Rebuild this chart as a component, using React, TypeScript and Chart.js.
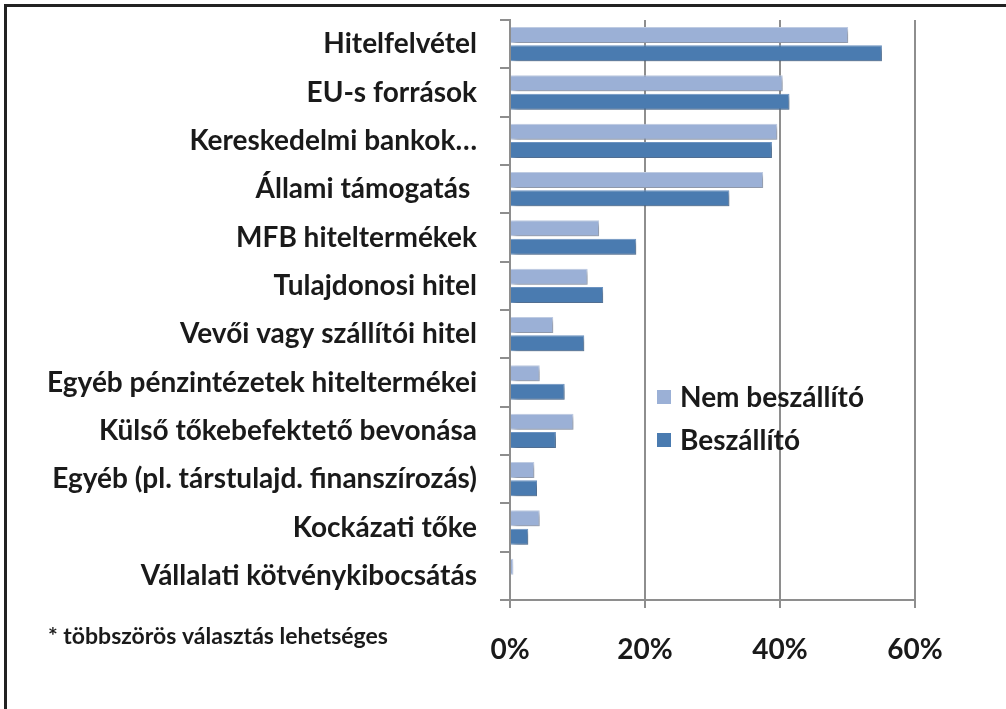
import React, { useEffect, useRef } from "react";
import { Chart, registerables } from "chart.js";
Chart.register(...registerables);

const categories = [
  "Hitelfelvétel",
  "EU-s források",
  "Kereskedelmi bankok…",
  "Állami támogatás ",
  "MFB hiteltermékek",
  "Tulajdonosi hitel",
  "Vevői vagy szállítói hitel",
  "Egyéb pénzintézetek hiteltermékei",
  "Külső tőkebefektető bevonása",
  "Egyéb (pl. társtulajd. finanszírozás)",
  "Kockázati tőke",
  "Vállalati kötvénykibocsátás",
];
const nemBeszallito = [50.1, 40.4, 39.6, 37.5, 13.2, 11.5, 6.4, 4.4, 9.4, 3.6, 4.4, 0.5];
const beszallito = [55.1, 41.4, 38.8, 32.5, 18.7, 13.8, 11.0, 8.1, 6.8, 4.0, 2.7, 0];
const seriesNames = ["Nem beszállító", "Beszállító"];
const xMin = 0;
const xMax = 60;
const xStep = 20;
const footnote = "* többszörös választás lehetséges";

const FONT = "Lato, 'Noto Sans', sans-serif";
const TEXT = "#1a1a1a";
const GRID = "#8e8e8e";
const LIGHT = "#9bb0d6";
const DARK = "#4a7bb0";

const shadowPlugin = {
  id: "barShadow",
  beforeDatasetsDraw(chart: any) {
    const ctx = chart.ctx;
    ctx.save();
    ctx.shadowColor = "rgba(0,0,0,0.32)";
    ctx.shadowBlur = 5;
    ctx.shadowOffsetX = 3;
    ctx.shadowOffsetY = 3;
  },
  afterDatasetsDraw(chart: any) {
    chart.ctx.restore();
  },
};

const extrasPlugin = {
  id: "extras",
  afterDraw(chart: any) {
    const ctx = chart.ctx;
    const ca = chart.chartArea;
    ctx.save();
    // legend
    ctx.font = `bold 28px ${FONT}`;
    ctx.textBaseline = "middle";
    ctx.textAlign = "left";
    const lx = ca.left + 147;
    const ly0 = ca.top + 377;
    const gap = 43;
    chart.data.datasets.forEach((ds: any, i: number) => {
      const y = ly0 + i * gap;
      ctx.fillStyle = ds.backgroundColor;
      ctx.fillRect(lx, y - 7, 14, 14);
      ctx.fillStyle = TEXT;
      ctx.fillText(ds.label, lx + 23, y + 1);
    });
    // footnote
    ctx.font = `bold 23px ${FONT}`;
    ctx.fillStyle = TEXT;
    ctx.fillText(footnote, 48, ca.bottom + 37);
    ctx.restore();
  },
};

export default function App() {
  const ref = useRef<HTMLCanvasElement | null>(null);
  useEffect(() => {
    if (!ref.current) return;
    const chart = new Chart(ref.current, {
      type: "bar",
      data: {
        labels: categories,
        datasets: [
          {
            label: seriesNames[0],
            data: nemBeszallito,
            backgroundColor: LIGHT,
            borderColor: "#c3d0e8",
            borderWidth: 1,
            categoryPercentage: 0.76,
            barPercentage: 0.87,
          },
          {
            label: seriesNames[1],
            data: beszallito,
            backgroundColor: DARK,
            borderColor: "#6f97c6",
            borderWidth: 1,
            categoryPercentage: 0.76,
            barPercentage: 0.87,
          },
        ],
      },
      options: {
        indexAxis: "y",
        responsive: false,
        animation: false,
        devicePixelRatio: 1,
        layout: { padding: { top: 20, right: 91, left: 0, bottom: 0 } },
        plugins: {
          legend: { display: false },
          tooltip: { enabled: false },
          title: { display: false },
        },
        scales: {
          x: {
            type: "linear",
            min: xMin,
            max: xMax,
            ticks: {
              stepSize: xStep,
              callback: (v: any) => `${v}%`,
              color: TEXT,
              font: { family: FONT, size: 28, weight: "bold" },
              padding: 25,
              maxRotation: 0,
            },
            grid: {
              color: GRID,
              lineWidth: 2,
              tickLength: 8,
              drawOnChartArea: true,
            },
            border: { display: true, color: GRID, width: 2 },
            afterFit: (s: any) => {
              s.height = 109;
              s.paddingLeft = 0;
              s.paddingRight = 0;
            },
          },
          y: {
            type: "category",
            ticks: {
              color: TEXT,
              font: { family: FONT, size: 28, weight: "bold" },
              padding: 23,
              autoSkip: false,
            },
            grid: {
              color: GRID,
              lineWidth: 2,
              tickLength: 10,
              drawOnChartArea: false,
              offset: true,
            },
            border: { display: true, color: GRID, width: 2 },
            afterFit: (s: any) => {
              s.width = 510;
              s.paddingTop = 0;
              s.paddingBottom = 0;
            },
          },
        },
      } as any,
      plugins: [shadowPlugin, extrasPlugin],
    });
    return () => chart.destroy();
  }, []);

  return (
    <div style={{ position: "absolute", left: 0, top: 0, width: 1006, height: 709, background: "#fff", overflow: "hidden" }}>
      <canvas ref={ref} width={1006} height={709} style={{ position: "absolute", left: 0, top: 0 }} />
      <div
        style={{
          position: "absolute",
          left: 4,
          top: 4,
          right: -10,
          bottom: -10,
          borderTop: "3px solid #222",
          borderLeft: "3px solid #222",
          pointerEvents: "none",
        }}
      />
    </div>
  );
}
